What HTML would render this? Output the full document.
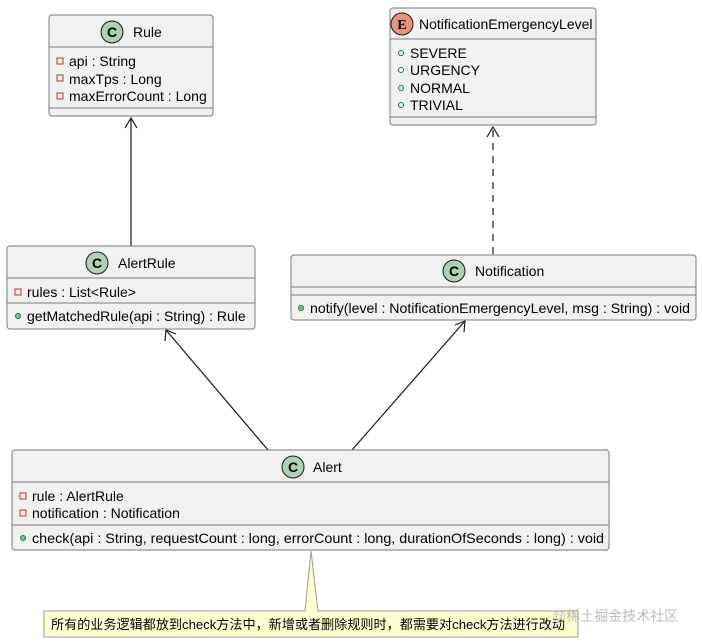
<!DOCTYPE html>
<html><head><meta charset="utf-8"><style>
html,body{margin:0;padding:0;background:#fff;}
svg{display:block;}
text{font-family:"Liberation Sans","Noto Sans CJK SC",sans-serif;font-size:14px;fill:#000;}
.box{fill:#f1f1f1;stroke:#7a7a7a;stroke-width:1;}
.sep{stroke:#7a7a7a;stroke-width:1;}
.ln{stroke:#181818;stroke-width:1.2;fill:none;}
.pv{fill:none;stroke:#c82930;stroke-width:1;}
.pb{fill:#84be84;stroke:#038048;stroke-width:1;}
.po{fill:none;stroke:#038048;stroke-width:1;}
</style></head><body>
<svg width="702" height="643" viewBox="0 0 702 643" xmlns="http://www.w3.org/2000/svg">
<defs>
<g id="cicon"><circle r="11" fill="#add1b2" stroke="#181818" stroke-width="1"/><text x="0" y="5" text-anchor="middle" style="font-weight:bold;font-size:14px">C</text></g>
</defs>
<line class="ln" x1="131" y1="246" x2="131" y2="118"/>
<polyline class="ln" points="125,128 131,118 137,128"/>
<line class="ln" x1="493" y1="254" x2="493" y2="127" stroke-dasharray="7,6"/>
<polyline class="ln" points="487,137 493,127 499,137"/>
<line class="ln" x1="268" y1="450" x2="166" y2="330"/>
<polyline class="ln" points="165,341 166,330 176,334"/>
<line class="ln" x1="352" y1="450" x2="465" y2="321"/>
<polyline class="ln" points="455,325 465,321 464,332"/>
<!-- Rule -->
<rect class="box" x="49" y="15" width="164" height="101" rx="3"/>
<line class="sep" x1="49" y1="47" x2="213" y2="47"/>
<line class="sep" x1="49" y1="108" x2="213" y2="108"/>
<use href="#cicon" x="112" y="32"/>
<text x="133" y="37">Rule</text>
<rect class="pv" x="57" y="58" width="6" height="6"/><text x="69" y="66">api : String</text>
<rect class="pv" x="57" y="75" width="6" height="6"/><text x="69" y="84">maxTps : Long</text>
<rect class="pv" x="57" y="93" width="6" height="6"/><text x="69" y="101">maxErrorCount : Long</text>
<!-- Enum -->
<rect class="box" x="390" y="8" width="206" height="117" rx="3"/>
<line class="sep" x1="390" y1="39" x2="596" y2="39"/>
<line class="sep" x1="390" y1="117" x2="596" y2="117"/>
<circle cx="402" cy="24" r="11" fill="#eb937f" stroke="#181818"/>
<text x="402" y="29" text-anchor="middle" style="font-family:'Liberation Serif',serif;font-weight:bold;font-size:14px">E</text>
<text x="419" y="29">NotificationEmergencyLevel</text>
<circle class="po" cx="401" cy="53" r="2.5"/><text x="410" y="58">SEVERE</text>
<circle class="po" cx="401" cy="70" r="2.5"/><text x="410" y="75">URGENCY</text>
<circle class="po" cx="401" cy="88" r="2.5"/><text x="410" y="93">NORMAL</text>
<circle class="po" cx="401" cy="105" r="2.5"/><text x="410" y="110">TRIVIAL</text>
<!-- AlertRule -->
<rect class="box" x="7" y="246" width="248" height="83" rx="3"/>
<line class="sep" x1="7" y1="278" x2="255" y2="278"/>
<line class="sep" x1="7" y1="303" x2="255" y2="303"/>
<use href="#cicon" x="97" y="263"/>
<text x="118" y="268">AlertRule</text>
<rect class="pv" x="15" y="289" width="6" height="6"/><text x="27" y="297">rules : List&lt;Rule&gt;</text>
<circle class="pb" cx="18" cy="316" r="2.5"/><text x="27" y="321">getMatchedRule(api : String) : Rule</text>
<!-- Notification -->
<rect class="box" x="291" y="255" width="405" height="65" rx="3"/>
<line class="sep" x1="291" y1="287" x2="696" y2="287"/>
<line class="sep" x1="291" y1="295" x2="696" y2="295"/>
<use href="#cicon" x="454" y="271"/>
<text x="475" y="276">Notification</text>
<circle class="pb" cx="301" cy="308" r="2.5"/><text x="310" y="313" textLength="380" lengthAdjust="spacingAndGlyphs">notify(level : NotificationEmergencyLevel, msg : String) : void</text>
<!-- Alert -->
<rect class="box" x="12" y="450" width="597" height="100" rx="3"/>
<line class="sep" x1="12" y1="482" x2="609" y2="482"/>
<line class="sep" x1="12" y1="525" x2="609" y2="525"/>
<use href="#cicon" x="293" y="467"/>
<text x="313" y="472">Alert</text>
<rect class="pv" x="20" y="493" width="6" height="6"/><text x="32" y="501">rule : AlertRule</text>
<rect class="pv" x="20" y="510" width="6" height="6"/><text x="32" y="518">notification : Notification</text>
<circle class="pb" cx="23" cy="538" r="2.5"/><text x="32" y="543" textLength="572" lengthAdjust="spacingAndGlyphs">check(api : String, requestCount : long, errorCount : long, durationOfSeconds : long) : void</text>
<!-- note -->
<path d="M311,551 L305,611 L44,611 L44,637 L578,637 L578,611 L318,611 Z" fill="#fefece" stroke="#999"/>
<line x1="306" y1="611" x2="317" y2="611" stroke="#fefece" stroke-width="1.5"/>
<text x="51" y="629" style="font-size:13px" textLength="514" lengthAdjust="spacingAndGlyphs">所有的业务逻辑都放到check方法中，新增或者删除规则时，都需要对check方法进行改动</text>
<text x="552" y="621" style="font-size:14px;fill:#bbb">@稀土掘金技术社区</text>
</svg>
</body></html>
